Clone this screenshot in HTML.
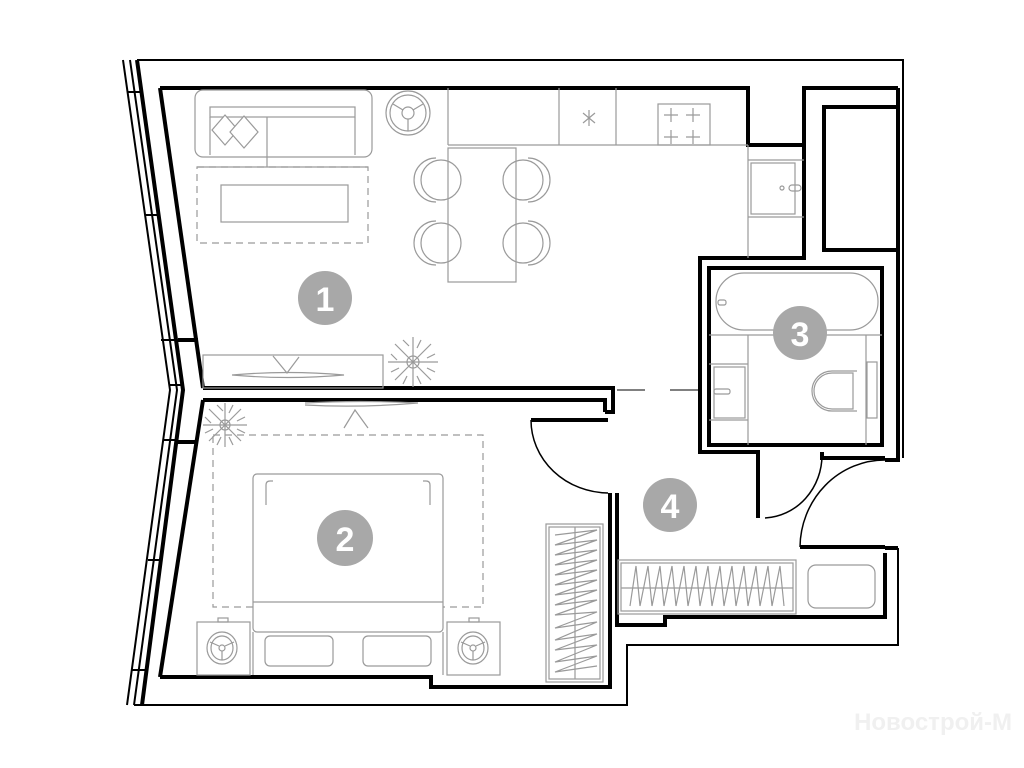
<!DOCTYPE html>
<html><head><meta charset="utf-8"><style>
html,body{margin:0;padding:0;background:#fff;}
svg{display:block;}
.w{fill:none;stroke:#000;stroke-width:4;stroke-linejoin:miter;}
.t{fill:none;stroke:#000;stroke-width:2;}
.f{fill:none;stroke:#9a9a9a;stroke-width:1.2;}
.d{fill:none;stroke:#9a9a9a;stroke-width:1.2;stroke-dasharray:7 5;}
.n{fill:#a8a8a8;}
.nt{fill:#fff;font-family:"Liberation Sans",sans-serif;font-size:34px;font-weight:bold;text-anchor:middle;}
</style></head><body>
<svg width="1024" height="768" viewBox="0 0 1024 768" xmlns="http://www.w3.org/2000/svg">
<polyline class="t" points="137,60 903,60 903,458"/>
<polyline class="w" points="898,88 898,460 885,460"/>
<polyline class="t" points="898,548 898,645 627,645 627,705 134,705"/>
<polyline class="w" points="885,548 898,548"/>
<polyline class="t" points="123,60 170,390 127,705"/>
<polyline class="t" points="130,60 177,390 134,705"/>
<polyline class="w" points="137,60 183,390 142,705"/>
<g class="t">
<line x1="127" y1="92" x2="141" y2="92"/><line x1="145" y1="215" x2="159" y2="215"/>
<line x1="161" y1="340" x2="177" y2="340"/><line x1="170" y1="385" x2="183" y2="385"/>
<line x1="163" y1="440" x2="178" y2="440"/><line x1="148" y1="560" x2="162" y2="560"/>
<line x1="132" y1="670" x2="146" y2="670"/>
</g>
<line class="w" x1="178" y1="340" x2="198" y2="340"/>
<line class="w" x1="176" y1="442" x2="195" y2="442"/>
<polyline class="w" points="160,88 748,88 748,145 804,145 804,88 898,88"/>
<line class="w" x1="160" y1="88" x2="203" y2="388"/>
<polyline class="w" points="203,388 613,388 613,412 605,412"/>
<polyline class="w" points="804,145 804,258 700,258 700,452 758,452 758,518"/>
<rect class="w" x="709" y="268" width="173" height="177"/>
<polyline class="w" points="822,452 822,458 885,458"/>
<rect class="w" x="824" y="107" width="74" height="143"/>
<polyline class="w" points="203,400 605,400 605,412"/>
<line class="w" x1="203" y1="400" x2="160" y2="677"/>
<polyline class="w" points="160,677 431,677 431,687 610,687 610,493"/>
<line class="w" x1="531" y1="420" x2="608" y2="420"/>
<path class="t" d="M531,420 A78,73 0 0 0 608,493" style="stroke-width:1.5"/>
<polyline class="w" points="617,493 617,625 665,625 665,617 885,617 885,553"/>
<line class="w" x1="800" y1="547" x2="885" y2="547"/>
<path class="t" d="M800,547 A85,88 0 0 1 885,460" style="stroke-width:1.5"/>
<path class="t" d="M765,518 A60,63 0 0 0 822,455" style="stroke-width:1.5"/>
<line class="t" x1="617" y1="390" x2="645" y2="390" style="stroke-width:1"/>
<line class="t" x1="670" y1="390" x2="700" y2="390" style="stroke-width:1"/>

<rect class="f" x="195" y="90" width="177" height="67" rx="8"/>
<rect class="f" x="210" y="107" width="145" height="10"/>
<line class="f" x1="210" y1="117" x2="210" y2="155"/><line class="f" x1="355" y1="117" x2="355" y2="155"/>
<line class="f" x1="267" y1="117" x2="267" y2="167"/>
<line class="f" x1="197" y1="167" x2="368" y2="167"/>
<polygon class="f" points="225,115 238,130 225,145 212,130" style="fill:#fff"/>
<polygon class="f" points="244,116 258,132 244,148 230,132" style="fill:#fff"/>
<rect class="d" x="197" y="167" width="171" height="76"/>
<rect class="f" x="221" y="185" width="127" height="37"/>
<circle class="f" cx="408" cy="113" r="22"/><circle class="f" cx="408" cy="113" r="18"/>
<circle class="f" cx="408" cy="113" r="6"/>
<line class="f" x1="408" y1="119" x2="408" y2="131"/><line class="f" x1="403" y1="110" x2="393" y2="104"/><line class="f" x1="413" y1="110" x2="423" y2="104"/>
<line class="f" x1="448" y1="88" x2="448" y2="145"/><line class="f" x1="448" y1="145" x2="748" y2="145"/>
<line class="f" x1="559" y1="88" x2="559" y2="145"/><line class="f" x1="616" y1="88" x2="616" y2="145"/>
<g class="f"><line x1="589" y1="110" x2="589" y2="126"/><line x1="583" y1="113" x2="595" y2="123"/><line x1="595" y1="113" x2="583" y2="123"/></g>
<rect class="f" x="658" y="104" width="52" height="41"/>
<g class="f"><path d="M664,115h14M671,108v14M686,115h14M693,108v14M664,137h14M671,130v14M686,137h14M693,130v14"/></g>
<rect class="f" x="448" y="148" width="68" height="134"/>
<g class="f">
<circle cx="441" cy="180" r="20"/><path d="M436,158 A22,22 0 0 0 436,202"/>
<circle cx="441" cy="243" r="20"/><path d="M436,221 A22,22 0 0 0 436,265"/>
<circle cx="523" cy="180" r="20"/><path d="M528,158 A22,22 0 0 1 528,202"/>
<circle cx="523" cy="243" r="20"/><path d="M528,221 A22,22 0 0 1 528,265"/>
</g>
<line class="f" x1="748" y1="145" x2="748" y2="258"/>
<line class="f" x1="748" y1="160" x2="804" y2="160"/><line class="f" x1="748" y1="217" x2="804" y2="217"/>
<rect class="f" x="751" y="163" width="44" height="51"/>
<circle class="f" cx="782" cy="188" r="2"/><rect class="f" x="789" y="185" width="12" height="6" rx="3"/>
<circle class="n" cx="325" cy="298" r="27"/><text class="nt" x="325" y="311">1</text>
<rect class="f" x="203" y="355" width="180" height="33"/>
<path class="f" d="M232,375 Q288,370 344,375 Q288,380 232,375"/>
<polyline class="f" points="273,356 287,373 299,357"/>
<g class="f" transform="translate(413,362)"><path d="M-25,0 L25,0 M0,-25 L0,25 M-18,-18 L18,18 M-18,18 L18,-18"/><circle r="6"/><path d="M-22,-8 l6,6 M-10,-22 l6,6 M8,-22 l-4,8 M22,-8 l-8,4 M22,10 l-8,-4 M8,22 l-4,-8 M-10,22 l4,-8 M-22,10 l8,-4"/></g>
<path class="f" d="M305,403 Q360,400 418,403 Q360,408 305,405"/>
<polyline class="f" points="344,428 355,410 368,428"/>
<g class="f" transform="translate(225,425)"><path d="M-22,0 L22,0 M0,-22 L0,22 M-16,-16 L16,16 M-16,16 L16,-16"/><circle r="5"/><path d="M-20,-8 l6,6 M-8,-20 l6,6 M8,-20 l-4,8 M20,-8 l-8,4 M20,8 l-8,-4 M8,20 l-4,-8 M-8,20 l4,-8 M-20,8 l8,-4"/></g>
<rect class="d" x="213" y="435" width="270" height="172"/>
<rect class="f" x="253" y="474" width="190" height="158" rx="4" style="fill:#fff"/>
<line class="f" x1="253" y1="602" x2="443" y2="602"/>
<path class="f" d="M266,505 v-20 q0,-4 4,-4 h3 M430,505 v-20 q0,-4 -4,-4 h-3"/>
<rect class="f" x="265" y="636" width="68" height="30" rx="5"/><rect class="f" x="363" y="636" width="68" height="30" rx="5"/>
<line class="f" x1="253" y1="632" x2="253" y2="675"/><line class="f" x1="443" y1="632" x2="443" y2="675"/>
<rect class="f" x="197" y="622" width="53" height="53"/><rect class="f" x="447" y="622" width="53" height="53"/>
<rect class="f" x="218" y="618" width="10" height="4"/><rect class="f" x="469" y="618" width="10" height="4"/>
<g class="f"><ellipse cx="222" cy="648" rx="15" ry="16"/><ellipse cx="222" cy="648" rx="11" ry="12"/><circle cx="222" cy="648" r="3"/><path d="M222,651v9M219,646l-9,-4M225,646l9,-4"/>
<ellipse cx="473" cy="648" rx="15" ry="16"/><ellipse cx="473" cy="648" rx="11" ry="12"/><circle cx="473" cy="648" r="3"/><path d="M473,651v9M470,646l-9,-4M476,646l9,-4"/></g>
<circle class="n" cx="345" cy="538" r="28"/><text class="nt" x="345" y="551">2</text>
<rect class="f" x="546" y="524" width="57" height="158"/><rect class="f" x="549" y="527" width="51" height="152"/>
<line class="f" x1="575" y1="527" x2="575" y2="679"/>
<polyline class="f" points="555,535 597,530 555,545 597,540 555,555 597,550 555,565 597,560 555,575 597,570 555,585 597,580 555,595 597,590 555,605 597,600 555,615 597,612 555,628 597,622 555,640 597,634 555,650 597,645 555,662 597,656 555,672 597,666"/>
<rect class="f" x="618" y="560" width="178" height="54"/><rect class="f" x="621" y="563" width="172" height="48"/>
<line class="f" x1="621" y1="588" x2="793" y2="588"/>
<polyline class="f" points="630,606 636,566 640,606 648,566 652,606 660,566 664,606 672,566 676,606 684,566 688,606 696,566 700,606 708,566 712,606 720,566 724,606 732,566 736,606 744,566 748,606 756,566 760,606 768,566 772,606 780,566 784,606"/>
<rect class="f" x="808" y="565" width="67" height="43" rx="8"/>
<circle class="n" cx="670" cy="505" r="27"/><text class="nt" x="670" y="518">4</text>
<rect class="f" x="716" y="273" width="162" height="57" rx="28"/>
<rect class="f" x="718" y="300" width="8" height="5" rx="2"/>
<line class="f" x1="709" y1="335" x2="882" y2="335"/>
<line class="f" x1="748" y1="335" x2="748" y2="445"/>
<line class="f" x1="709" y1="364" x2="748" y2="364"/><line class="f" x1="709" y1="420" x2="748" y2="420"/>
<rect class="f" x="714" y="367" width="31" height="51"/>
<rect class="f" x="714" y="389" width="16" height="5" rx="2"/>
<line class="f" x1="866" y1="335" x2="866" y2="445"/>
<rect class="f" x="867" y="362" width="10" height="56"/>
<path class="f" d="M853,373 H832 A18,18 0 0 0 832,409 H853 Z"/>
<path class="f" d="M857,371 H832 A20,20 0 0 0 832,411 H857"/>
<circle class="n" cx="800" cy="333" r="27"/><text class="nt" x="800" y="346">3</text>
<text x="1012" y="730" style="font-family:'Liberation Sans',sans-serif;font-size:24px;fill:#f0f0f0;text-anchor:end;font-weight:bold">Новострой-М</text>
</svg>
</body></html>
